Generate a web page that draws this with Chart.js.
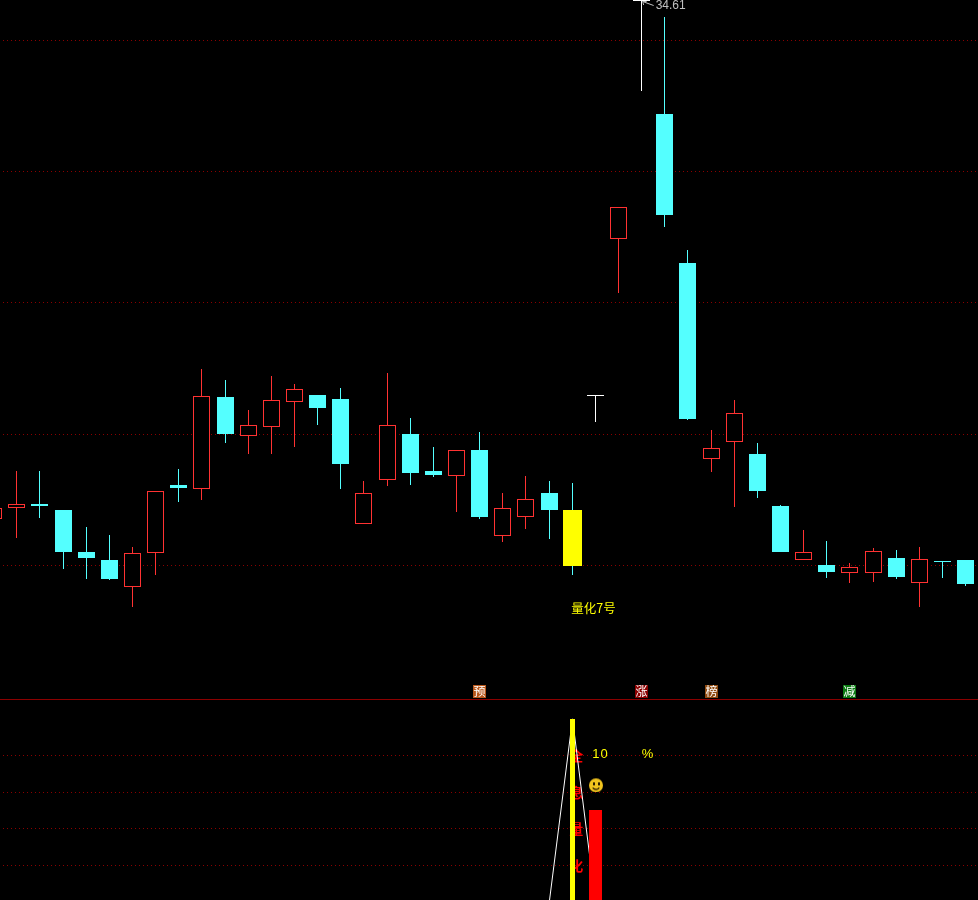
<!DOCTYPE html>
<html>
<head>
<meta charset="utf-8">
<title>量化7号</title>
<style>
  html, body { margin: 0; padding: 0; background: #000; overflow: hidden; }
  #kline { position: absolute; left: 0; top: 0; }
  #rule { position: absolute; left: 0; top: 699px; width: 978px; height: 1px; background: #8b0000; }
  #indicator { position: absolute; left: 0; top: 700px; }
</style>
<script src="https://cdn.jsdelivr.net/npm/chart.js@4"></script>
</head>
<body>
<canvas id="kline" width="978" height="699"></canvas>
<div id="rule"></div>
<canvas id="indicator" width="978" height="200"></canvas>
<script>
// 日K数据, 读自原图
const days   = [0, 1, 2, 3, 4, 5, 6, 7, 8, 9, 10, 11, 12, 13, 14, 15, 16, 17, 18, 19, 20, 21, 22, 23, 24, 25, 26, 27, 28, 29, 30, 31, 32, 33, 34, 35, 36, 37, 38, 39, 40, 41, 42];
const opens  = [26.71, 26.88, 26.94, 26.85, 26.21, 26.08, 25.67, 26.19, 27.23, 27.17, 28.57, 27.97, 28.11, 28.49, 28.60, 28.54, 26.63, 27.30, 28.00, 27.44, 27.36, 27.76, 26.45, 26.74, 27.10, 26.85, 28.60, 30.97, 34.61, 32.88, 30.61, 27.62, 27.88, 27.70, 26.91, 26.08, 26.01, 25.89, 25.89, 26.11, 25.73, 26.07, 26.08];
const highs  = [26.95, 27.44, 27.44, 26.85, 26.59, 26.46, 26.28, 27.13, 27.47, 28.99, 28.83, 28.37, 28.89, 28.76, 28.60, 28.70, 27.29, 28.93, 28.25, 27.81, 27.76, 28.03, 27.10, 27.36, 27.29, 27.26, 28.60, 31.46, 34.61, 34.36, 30.81, 28.06, 28.52, 27.87, 26.92, 26.54, 26.37, 26.04, 26.27, 26.24, 26.28, 26.07, 26.08];
const lows   = [26.65, 26.42, 26.72, 25.95, 25.79, 25.78, 25.37, 25.86, 26.97, 27.00, 27.87, 27.70, 27.70, 27.81, 28.14, 27.17, 26.63, 27.21, 27.23, 27.35, 26.82, 26.71, 26.36, 26.56, 26.40, 25.86, 28.19, 30.15, 33.23, 31.16, 28.22, 27.42, 26.89, 27.03, 26.21, 26.08, 25.81, 25.73, 25.75, 25.79, 25.37, 25.81, 25.69];
const closes = [26.88, 26.93, 26.91, 26.21, 26.11, 25.79, 26.19, 27.13, 27.18, 28.58, 28.00, 28.14, 28.52, 28.69, 28.40, 27.55, 27.10, 28.14, 27.41, 27.38, 27.76, 26.74, 26.88, 27.01, 26.85, 25.99, 28.60, 31.46, 34.61, 31.34, 28.23, 27.79, 28.32, 27.13, 26.21, 26.21, 25.90, 25.98, 26.22, 25.82, 26.10, 26.07, 25.72];

const priceTicks = [26, 28, 30, 32, 34];
const priceMin = 23.965;
const priceMax = 34.617;
const highlightDay = 25;
const whiteDays = [26, 28];

const signalDays = [21, 28, 31, 37];
const signalWords = ['预', '涨', '榜', '减'];
const signalColors = ['#b8561a', '#8b0000', '#8f4a10', '#0b7a12'];
const signalLow = 23.98;
const signalHigh = 24.18;

const maxLabel = '34.61';
const maxDay = 28;
const strategyName = '量化7号';
const strategyPrice = 25.35;

// 副图
const lineDays = [24, 25, 26];
const lineValues = [1, 100, 0];
const yellowDays = [25];
const yellowValues = [100];
const redDays = [26];
const redValues = [50.3];
const subTicks = [20, 40, 60, 80];
const subMin = 1.18;
const subMax = 110.3;
const sideWords = ['全', '息', '量', '化'];
const sideValues = [80, 60, 40, 20];
const percentValue = '10';
const percentSign = '%';
const percentDays = [26, 28];
const percentLevel = 80.5;
const smileDay = 26;
const smileLevel = 64;

const RED = '#ff3232';
const CYAN = '#54ffff';
const YELLOW = '#ffff00';
const xMin = 0.2741;
const xMax = 42.534;

// 和原图一样按整像素画
const snapPlugin = {
  id: 'snap',
  afterDatasetsUpdate(chart) {
    chart.getSortedVisibleDatasetMetas().forEach(function (meta) {
      meta.data.forEach(function (el) {
        el.x = Math.floor(el.x) + 0.5;
        if (meta.type === 'bar') {
          el.y = Math.round(el.y);
          el.base = Math.round(el.base);
          if (el.base === el.y) el.base = el.y + 1;
        }
      });
    });
  }
};

function candleColor(i) {
  if (whiteDays.includes(days[i])) return '#ffffff';
  return closes[i] > opens[i] ? RED : CYAN;
}

function isHollow(i) {
  return closes[i] > opens[i];
}

function gridScale(ticks, min, max) {
  return {
    min: min,
    max: max,
    display: true,
    afterBuildTicks(scale) { scale.ticks = ticks.map(function (v) { return { value: v }; }); },
    ticks: { display: false },
    grid: { color: '#8b0000', lineWidth: 1, drawTicks: false },
    border: { display: false, dash: [1, 3], dashOffset: 1 }
  };
}

function xScale() {
  return { type: 'linear', min: xMin, max: xMax, offset: false, display: false };
}

const bodyDays = days.filter(function (d) { return d !== highlightDay; });

const klinePlugin = {
  id: 'klineText',
  afterDatasetsDraw(chart) {
    const ctx = chart.ctx;
    const x = chart.scales.x;
    const y = chart.scales.y;
    ctx.save();

    // 信号方块里的字
    const signalMeta = chart.getDatasetMeta(3);
    ctx.font = '12px "Noto Sans CJK SC"';
    ctx.fillStyle = '#ffffff';
    ctx.textAlign = 'center';
    ctx.textBaseline = 'middle';
    signalWords.forEach(function (word, i) {
      ctx.fillText(word, signalMeta.data[i].x, y.getPixelForValue((signalLow + signalHigh) / 2));
    });

    // 最高价标注
    const tipX = x.getPixelForValue(maxDay);
    ctx.strokeStyle = '#c0c0c0';
    ctx.beginPath();
    ctx.moveTo(tipX + 1, 1.5);
    ctx.lineTo(tipX + 12, 5.5);
    ctx.moveTo(tipX + 1, 1.5);
    ctx.lineTo(tipX + 5, 1.5);
    ctx.moveTo(tipX + 1, 1.5);
    ctx.lineTo(tipX + 2, 5);
    ctx.stroke();
    ctx.fillStyle = '#c0c0c0';
    ctx.font = '12px "Liberation Sans"';
    ctx.textAlign = 'left';
    ctx.fillText(maxLabel, tipX + 14, 6);

    ctx.fillStyle = YELLOW;
    ctx.font = '12.5px "Noto Sans CJK SC"';
    ctx.fillText(strategyName, x.getPixelForValue(highlightDay) - 1, y.getPixelForValue(strategyPrice));
    ctx.restore();
  }
};

new Chart(document.getElementById('kline'), {
  type: 'bar',
  data: {
    datasets: [
      {
        label: 'wick',
        order: 4,
        grouped: false,
        barThickness: 1,
        inflateAmount: 0,
        data: days.map(function (d, i) { return { x: d, y: [lows[i], highs[i]] }; }),
        backgroundColor: days.map(function (d, i) { return candleColor(i); })
      },
      {
        label: 'body',
        order: 3,
        grouped: false,
        barThickness: 17,
        inflateAmount: 0,
        borderSkipped: false,
        data: bodyDays.map(function (d) { return { x: d, y: [opens[d], closes[d]] }; }),
        backgroundColor: bodyDays.map(function (d) { return isHollow(d) ? '#000000' : candleColor(d); }),
        borderColor: bodyDays.map(function (d) { return candleColor(d); }),
        borderWidth: bodyDays.map(function (d) { return isHollow(d) ? 1 : 0; })
      },
      {
        label: 'highlight',
        order: 2,
        grouped: false,
        barThickness: 19,
        inflateAmount: 0,
        data: [{ x: highlightDay, y: [opens[highlightDay], closes[highlightDay]] }],
        backgroundColor: YELLOW
      },
      {
        label: 'signal',
        order: 1,
        grouped: false,
        barThickness: 13,
        inflateAmount: 0,
        data: signalDays.map(function (d) { return { x: d, y: [signalLow, signalHigh] }; }),
        backgroundColor: signalColors
      }
    ]
  },
  options: {
    responsive: false,
    animation: false,
    events: [],
    layout: { padding: 0, autoPadding: false },
    plugins: { legend: { display: false }, tooltip: { enabled: false } },
    scales: { x: xScale(), y: gridScale(priceTicks, priceMin, priceMax) }
  },
  plugins: [snapPlugin, klinePlugin]
});

// 笑脸
function makeSmile() {
  const c = document.createElement('canvas');
  c.width = 15;
  c.height = 15;
  const g = c.getContext('2d');
  g.fillStyle = '#f2c41e';
  g.beginPath();
  g.arc(8, 8, 7, 0, Math.PI * 2);
  g.fill();
  g.fillStyle = '#2a1c00';
  g.fillRect(5, 5, 2, 3);
  g.fillRect(10, 5, 2, 3);
  g.strokeStyle = '#2a1c00';
  g.lineWidth = 1.4;
  g.beginPath();
  g.arc(8, 8, 4, 0.2 * Math.PI, 0.8 * Math.PI);
  g.stroke();
  return c;
}

const subTextPlugin = {
  id: 'subText',
  beforeDatasetsDraw(chart) {
    const ctx = chart.ctx;
    const x = chart.scales.x;
    const y = chart.scales.y;
    ctx.save();
    ctx.fillStyle = '#ff0000';
    ctx.font = 'bold 14px "Noto Sans CJK SC"';
    ctx.textAlign = 'center';
    ctx.textBaseline = 'middle';
    sideWords.forEach(function (word, i) {
      ctx.fillText(word, x.getPixelForValue(highlightDay) + 4, y.getPixelForValue(sideValues[i]));
    });
    ctx.restore();
  },
  afterDatasetsDraw(chart) {
    const ctx = chart.ctx;
    const x = chart.scales.x;
    const y = chart.scales.y;
    ctx.save();
    ctx.fillStyle = YELLOW;
    ctx.font = '13px "Liberation Sans"';
    ctx.textAlign = 'left';
    ctx.textBaseline = 'middle';
    ctx.letterSpacing = '1px';
    ctx.fillText(percentValue, x.getPixelForValue(percentDays[0]) - 3, y.getPixelForValue(percentLevel));
    ctx.letterSpacing = '0px';
    ctx.fillText(percentSign, x.getPixelForValue(percentDays[1]), y.getPixelForValue(percentLevel));
    ctx.restore();
  }
};

new Chart(document.getElementById('indicator'), {
  type: 'bar',
  data: {
    datasets: [
      {
        type: 'line',
        order: 4,
        data: lineDays.map(function (d, i) { return { x: d, y: lineValues[i] }; }),
        borderColor: '#ffffff',
        borderWidth: 1,
        pointRadius: 0,
        tension: 0
      },
      {
        order: 3,
        grouped: false,
        barThickness: 13,
        inflateAmount: 0,
        data: redDays.map(function (d, i) { return { x: d, y: redValues[i] }; }),
        backgroundColor: '#ff0000'
      },
      {
        order: 2,
        grouped: false,
        barThickness: 5,
        inflateAmount: 0,
        data: yellowDays.map(function (d, i) { return { x: d, y: yellowValues[i] }; }),
        backgroundColor: YELLOW
      },
      {
        type: 'line',
        order: 1,
        showLine: false,
        data: [{ x: smileDay, y: smileLevel }],
        pointStyle: makeSmile(),
        pointRadius: 7
      }
    ]
  },
  options: {
    responsive: false,
    animation: false,
    events: [],
    layout: { padding: 0, autoPadding: false },
    plugins: { legend: { display: false }, tooltip: { enabled: false } },
    scales: { x: xScale(), y: gridScale(subTicks, subMin, subMax) }
  },
  plugins: [snapPlugin, subTextPlugin]
});
</script>
</body>
</html>
